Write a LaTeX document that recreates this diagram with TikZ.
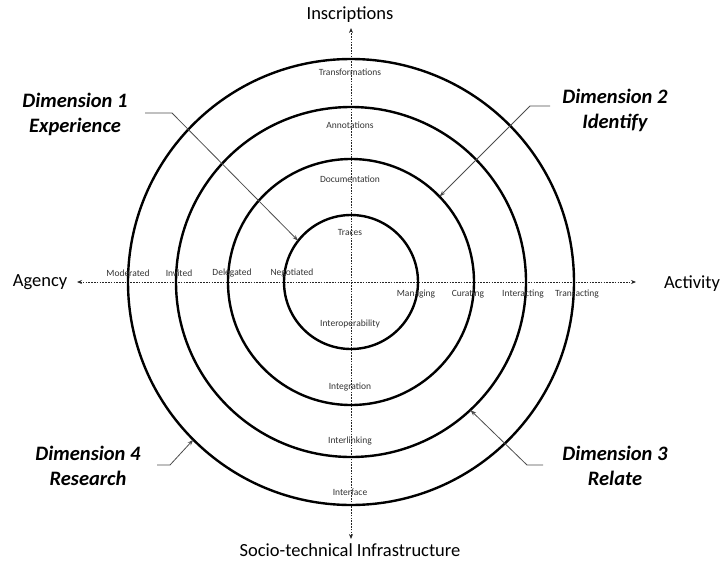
\documentclass[tikz,border=0pt]{standalone}
\usepackage{fontspec}
\setmainfont{Carlito}
\usetikzlibrary{arrows.meta}
\begin{document}
\begin{tikzpicture}[x=1pt,y=-1pt,
  ring/.style={circle,draw=black,line width=2.4pt,inner sep=0pt,outer sep=0pt},
  axis/.style={line width=0.8pt,draw=black!85,dash pattern=on 1.6pt off 1.2pt,{Stealth[length=5pt,width=4pt]}-{Stealth[length=5pt,width=4pt]}},
  axlabel/.style={font=\fontsize{18.5}{22}\selectfont,text=black,inner sep=0pt},
  small/.style={font=\fontsize{9.5}{11}\selectfont,text=black!80,inner sep=0pt},
  dimlabel/.style={font=\fontsize{20.5}{25}\selectfont\bfseries\itshape,align=center,inner sep=0pt},
  leader/.style={line width=0.8pt,draw=black!70,-{Stealth[length=6pt,width=4pt]}}
]
\useasboundingbox (0,0) rectangle (722,562);
\coordinate (c) at (351,282);
% axes
\coordinate (axL) at (77,282);
\coordinate (axR) at (636,282);
\coordinate (axT) at (351,28);
\coordinate (axB) at (351,539);
\draw[axis] (axL) -- (axR);
\draw[axis] (axB) -- (axT);
% rings
\node[ring,minimum size=134pt] (c1) at (c) {};
\node[ring,minimum size=246pt] (c2) at (c) {};
\node[ring,minimum size=350pt] (c3) at (c) {};
\node[ring,minimum size=446pt] (c4) at (c) {};
% axis labels
\node[axlabel] (ins) at (350,15) {Inscriptions};
\node[axlabel] (agency) at (40,282) {Agency};
\node[axlabel] (activity) at (692,284) {Activity};
\node[axlabel] (socio) at (350,550) {Socio-technical Infrastructure};
% vertical small labels
\node[small] (transf) at (350,72) {Transformations};
\node[small] (annot) at (350,125) {Annotations};
\node[small] (docu) at (350,179) {Documentation};
\node[small] (traces) at (350,232) {Traces};
\node[small] (interop) at (350,324) {Interoperability};
\node[small] (integ) at (350,387) {Integration};
\node[small] (interl) at (350,441) {Interlinking};
\node[small] (interf) at (350,492) {Interface};
% horizontal small labels
\node[small] (moder) at (128,273) {Moderated};
\node[small] (invit) at (179,273) {Invited};
\node[small] (deleg) at (232,273) {Delegated};
\node[small] (negot) at (292,273) {Negotiated};
\node[small] (manag) at (416,294) {Managing};
\node[small] (curat) at (468,294) {Curating};
\node[small] (intera) at (523,294) {Interacting};
\node[small] (transa) at (577,294) {Transacting};
% dimension labels
\node[dimlabel] (dim1) at (75,114) {Dimension 1\\Experience};
\node[dimlabel] (dim2) at (615,110) {Dimension 2\\Identify};
\node[dimlabel] (dim3) at (615,466) {Dimension 3\\Relate};
\node[dimlabel] (dim4) at (88,466) {Dimension 4\\Research};
% leaders
\coordinate (d1s) at (145,113);
\coordinate (d1k) at (172,113);
\coordinate (d2s) at (550,106);
\coordinate (d2k) at (530,106);
\coordinate (d3s) at (543,465);
\coordinate (d3k) at (527,465);
\coordinate (d4s) at (157,465);
\coordinate (d4k) at (170,465);
\draw[leader] (d1s) -- (d1k) -- (c1.142);
\draw[leader] (d2s) -- (d2k) -- (c2.44);
\draw[leader] (d3s) -- (d3k) -- (c3.313);
\draw[leader] (d4s) -- (d4k) -- (c4.225);
\end{tikzpicture}
\end{document}
